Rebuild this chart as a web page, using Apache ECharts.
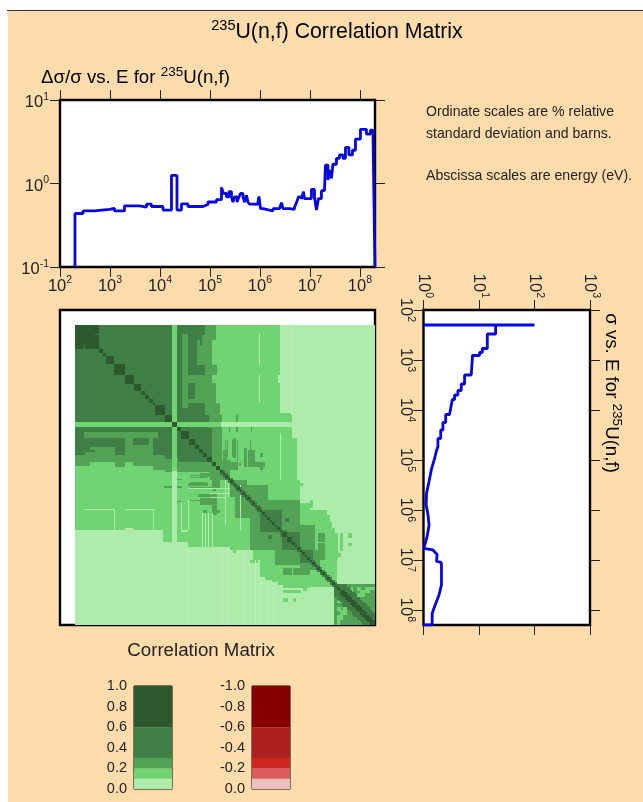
<!DOCTYPE html>
<html><head><meta charset="utf-8">
<style>html,body{margin:0;padding:0;background:#fff}#c{width:643px;height:802px}</style>
<script src="https://cdn.jsdelivr.net/npm/echarts@6/dist/echarts.min.js"></script>
</head><body><div id="c"></div>
<script>
// ---------- text ----------
const titleText = '{s|235}{b|U(n,f) Correlation Matrix}';
const uncTitle = '{b|Δσ/σ vs. E for }{s|235}{b|U(n,f)}';
const xsTitle = '{b|σ vs. E for }{s|235}{b|U(n,f)}';
const matrixTitle = 'Correlation Matrix';
const notes = ['Ordinate scales are % relative', 'standard deviation and barns.', 'Abscissa scales are energy (eV).'];

// ---------- uncertainty curve: log10 E (eV) and relative std. dev. (%) ----------
const uncLogE = [2.30,2.30,2.46,2.69,2.99,3.09,3.29,3.59,3.73,3.83,4.06,4.23,4.34,4.43,4.56,4.86,4.96,5.13,5.23,5.27,5.33,5.38,5.43,5.46,5.49,5.54,5.58,5.61,5.66,5.69,5.73,5.76,5.79,5.96,5.98,6.01,6.06,6.19,6.26,6.39,6.43,6.46,6.59,6.69,6.73,6.77,6.83,6.87,6.89,7.03,7.09,7.13,7.17,7.23,7.29,7.31,7.36,7.39,7.43,7.46,7.53,7.59,7.66,7.71,7.78,7.85,7.91,8.01,8.13,8.21,8.26,8.30,8.30];
const uncPct = [0.1,0.437,0.47,0.49,0.505,0.47,0.54,0.52,0.565,0.53,0.48,1.25,0.48,0.57,0.53,0.56,0.6,0.64,0.9,0.76,0.69,0.8,0.69,0.6,0.69,0.6,0.69,0.76,0.69,0.6,0.72,0.6,0.565,0.6,0.7,0.5,0.48,0.47,0.5,0.51,0.59,0.5,0.49,0.52,0.59,0.69,0.65,0.8,0.66,0.85,0.69,0.48,0.66,0.82,0.85,1.66,1.1,1.45,1.15,1.7,2.0,2.2,2.0,2.7,2.2,2.5,3.4,4.45,3.9,4.35,4.5,4.5,0.1];

// ---------- cross section curve: log10 E (eV) and log10 sigma (barns) ----------
const xsLogE = [2.3,2.3,2.3,2.48,2.48,2.77,2.77,2.85,2.85,2.91,2.91,2.97,3.3,3.3,3.48,3.48,3.61,3.61,3.70,3.7,3.79,3.79,3.9,3.9,4.09,4.09,4.25,4.25,4.4,4.4,4.57,4.57,4.73,4.73,4.83,4.97,5.0,5.2,5.43,5.67,5.9,6.07,6.3,6.53,6.77,6.8,6.89,7.03,7.05,7.15,7.5,7.7,7.93,8.07,8.3,8.3];
const xsLogS = [0,2.0,1.3,1.3,1.15,1.15,1.06,1.06,1.01,1.01,0.88,0.88,0.86,0.74,0.74,0.68,0.68,0.62,0.62,0.56,0.56,0.52,0.5,0.47,0.47,0.40,0.40,0.35,0.35,0.31,0.31,0.26,0.26,0.23,0.23,0.20,0.17,0.14,0.10,0.054,0.048,0.078,0.10,0.066,0.006,0.17,0.246,0.234,0.32,0.324,0.324,0.28,0.2,0.156,0.156,0];

// ---------- correlation bands ----------
const bandWidths = [0.1,0.1,0.1,0.3,0.4];
const greenBand = ['#aeecac','#70d473','#52a355','#3f7f46','#2c5a2e','#bdefb9'];
const redBand = ['#ecc0c0','#d85c5c','#cc2820','#ad2020','#870000'];
const decades = [2,3,4,5,6,7,8];

// ---------- matrix, as energy-bin ranges [colFrom, colTo, rowFrom, rowTo]; 50 bins per decade from 200 eV ----------
const allBins = [[0,300,0,300]];
const band1 = [[0,205,0,205],[0,217,88,113],[0,222,113,155],[150,225,155,178],[150,235,178,185],[170,252,185,197],[185,257,197,208],[208,263,208,235],[235,262,235,262],[265,268,208,226],[273,277,208,213],[273,277,218,221],[263,266,228,232],[225,228,158,161],[235,238,175,183],[252,255,190,200],[257,260,203,208]];
const band2 = [[102,141,0,15],[102,137,15,40],[102,142,40,50],[102,137,50,58],[102,141,58,78],[102,145,78,90],[102,147,90,97],[102,147,102,147],
  [148,152,125,138],[150,151,115,132],[152,153,115,132],[157,159,115,132],[162,163,115,145],[155,163,137,145],[169,172,123,142],[173,180,125,142],[175,176,115,125],[180,190,137,142],[185,188,128,132],[185,188,142,145],[164,166,138,141],[161,163,89,107],[154,155,102,107],[162,163,102,107],[176,177,102,107],[158,161,113,133],
  [135,155,135,155],[155,172,155,172],[172,185,160,175],[160,180,178,193],[185,225,175,215],[200,240,205,240],[225,245,228,242],[243,250,208,217],[243,250,218,233],[240,250,225,235],[259,300,259,300]];
const band3 = [[0,97,0,97],[102,130,0,97],[102,137,103,133],[185,207,185,207],[207,225,207,225],[225,235,228,238],[210,214,193,197],[262,272,259,270],[272,282,268,280],[282,292,278,290],[292,300,288,300]];
const band2Over = [[107,113,9,83],[122,130,20,40],[122,125,15,20],[127,130,10,20],[113,130,50,78]];
const band3Over = [[113,120,58,74],[130,134,90,97],[120,130,40,50]];
const stripe1 = [[97,102,0,97],[97,102,102,146]];
const stripe0 = [[97,102,146,217],[203,205,50,58]];
const corner1 = [[282,286,262,266],[285,295,265,268],[290,300,262,265],[282,290,268,272],[276,278,262,275]];
const diagBlocks = [[0,24,0,9],[0,20,9,20],[10,20,20,24]];
const diagEdges = [20,24,28,31,39,50,59,66,70,74,78,80,90,97,102,106,114,120,124,128,132,137,141,145,148,150,153,155,158,160,162,165,167,170,172,175,177,180,182,185,187,190,192,195,197,200,202,205,207,212,217,220,222,225,227,230,232,235,237,240,242,245,247,250,252,255,257,260,262,265,267,270,272,275,277,280,282,285,287,290,292,295,297,300];
const linesOnMid = [[184,185,8,40],[184,185,50,78],[205,206,108,155],[106,107,177,205],[113,114,175,205],[106,113,205,207],[113,155,163,164],[135,155,168,169],[135,150,172,173],[127,128,188,222],[130,131,188,222],[133,134,188,222],[137,138,188,222],[9,39,184,185],[39,40,184,205],[50,78,184,185],[78,79,184,205],[150,151,150,200],[165,166,160,205],[153,154,150,172],[252,253,252,254],[268,270,268,270]];
const linesOnLight = [[216,217,0,90],[113,114,222,300],[147,148,222,300],[151,152,222,300],[153,154,222,300],[169,170,228,300],[180,181,235,300],[185,186,252,300],[193,194,262,300],[198,199,262,300]];

// ---------- build matrix cell table ----------
const cells = [];
function addMirrored(list, level) {
  list.forEach(r => {
    cells.push([r[0], r[1], r[2], r[3], level]);
    cells.push([r[2], r[3], r[0], r[1], level]);
  });
}
addMirrored(allBins, 0);
addMirrored(band1, 1);
addMirrored(band2, 2);
addMirrored(band3, 3);
addMirrored(band2Over, 2);
addMirrored(band3Over, 3);
addMirrored(stripe1, 1);
addMirrored(stripe0, 0);
addMirrored(corner1, 1);
addMirrored(diagBlocks, 4);
linesOnMid.forEach(r => cells.push([r[0], r[1], r[2], r[3], 0]));
linesOnLight.forEach(r => cells.push([r[0], r[1], r[2], r[3], 5]));
diagEdges.forEach((e, i) => {
  if (i + 1 >= diagEdges.length) return;
  const wide = e >= 265;
  const a = wide ? diagEdges[i - 2] : diagEdges[Math.max(i - 1, 0)];
  const b = wide ? diagEdges[Math.min(i + 3, diagEdges.length - 1)] : diagEdges[i + 1];
  if (e >= 148) cells.push([a, b, a, b, 3]);
});
diagEdges.forEach((e, i) => {
  if (i + 1 >= diagEdges.length) return;
  const wide = e >= 265;
  const a = e, b = wide ? diagEdges[Math.min(i + 2, diagEdges.length - 1)] : diagEdges[i + 1];
  cells.push([a, b, a, b, 4]);
});

// ---------- helpers ----------
const font = '"Liberation Sans", Arial, sans-serif';
const ink = '#222';
const pow10 = v => Math.pow(10, v);
const decadeVals = decades.map(pow10);
const supRich = (b, s) => ({
  b: {fontFamily: font, fontSize: b, color: ink, lineHeight: b + 6},
  s: {fontFamily: font, fontSize: s, color: ink, lineHeight: b + 6, verticalAlign: 'top'}
});
const powerLabel = v => '{b|10}{s|' + Math.round(Math.log10(v)) + '}';
const tickStyle = {show: true, length: 10, lineStyle: {color: '#222', width: 1}};

function logAxis(opts) {
  return Object.assign({
    type: 'log', logBase: 10, axisLine: {show: false}, splitLine: {show: false},
    minorTick: {show: false}, minorSplitLine: {show: false}, axisTick: tickStyle, axisLabel: {show: false},
    animation: false
  }, opts);
}
const labelStyle = (rotate, margin, vals, padding) => ({
  show: true, rotate: rotate, margin: margin, formatter: powerLabel, rich: supRich(16.5, 10.5),
  customValues: vals, hideOverlap: false, padding: padding || 0
});
const withTicks = vals => Object.assign({}, tickStyle, {customValues: vals});

const frame = {show: true, backgroundColor: '#fff', borderColor: '#000', borderWidth: 2.4, containLabel: false};

const chart = echarts.init(document.getElementById('c'), null, {renderer: 'canvas'});
chart.setOption({
  animation: false,
  backgroundColor: '#ffffff',
  graphic: [
    {type: 'rect', z: -10, silent: true, shape: {x: 8, y: 11, width: 635, height: 791}, style: {fill: '#fedcac'}},
    {type: 'rect', z: -9, silent: true, shape: {x: 7, y: 10, width: 636, height: 1}, style: {fill: '#333'}},
    {type: 'text', style: {x: 337, y: 32, text: titleText, align: 'center', verticalAlign: 'middle', rich: supRich(21.3, 14.5)}},
    {type: 'text', style: {x: 41, y: 78, text: uncTitle, align: 'left', verticalAlign: 'middle', rich: supRich(18.7, 13.5)}},
    {type: 'text', x: 611, y: 393, rotation: -Math.PI / 2, style: {x: 0, y: 0, text: xsTitle, align: 'center', verticalAlign: 'middle', rich: supRich(18.7, 13.5)}},
    {type: 'text', style: {x: 426, y: 112, text: notes[0], font: '14.1px ' + font, fill: ink, verticalAlign: 'middle'}},
    {type: 'text', style: {x: 426, y: 134, text: notes[1], font: '14.1px ' + font, fill: ink, verticalAlign: 'middle'}},
    {type: 'text', style: {x: 426, y: 176, text: notes[2], font: '14.1px ' + font, fill: ink, verticalAlign: 'middle'}},
    {type: 'text', style: {x: 201, y: 651, text: matrixTitle, font: '18.7px ' + font, fill: ink, align: 'center', verticalAlign: 'middle'}}
  ],
  grid: [
    Object.assign({left: 60, top: 100, width: 315, height: 167}, frame),
    Object.assign({left: 60, top: 310, width: 315, height: 315}, frame),
    Object.assign({left: 423.5, top: 310, width: 166.5, height: 315}, frame),
    {show: true, left: 134, top: 686, width: 38, height: 103, borderColor: '#000', borderWidth: 1, backgroundColor: 'transparent'},
    {show: true, left: 252, top: 686, width: 38, height: 103, borderColor: '#000', borderWidth: 1, backgroundColor: 'transparent'}
  ],
  xAxis: [
    logAxis({gridIndex: 0, position: 'bottom', min: 100, max: 2e8, axisTick: withTicks(decadeVals), axisLabel: labelStyle(0, 8, decadeVals)}),
    logAxis({gridIndex: 0, position: 'top', min: 100, max: 2e8, axisTick: withTicks(decadeVals)}),
    {gridIndex: 1, type: 'value', min: -15, max: 300, show: false},
    logAxis({gridIndex: 2, position: 'top', min: 1, max: 1000, axisTick: withTicks([1,10,100,1000]), axisLabel: labelStyle(90, 12, [1,10,100,1000])}),
    logAxis({gridIndex: 2, position: 'bottom', min: 1, max: 1000, axisTick: withTicks([1,10,100,1000])}),
    {gridIndex: 3, type: 'category', data: ['+'], show: false},
    {gridIndex: 4, type: 'category', data: ['-'], show: false}
  ],
  yAxis: [
    logAxis({gridIndex: 0, position: 'left', min: 0.1, max: 10, axisTick: withTicks([0.1,1,10]), axisLabel: labelStyle(0, 11, [0.1,1,10], [5,0,0,0])}),
    logAxis({gridIndex: 0, position: 'right', min: 0.1, max: 10, axisTick: withTicks([0.1,1,10])}),
    {gridIndex: 1, type: 'value', min: -15, max: 300, inverse: true, show: false},
    logAxis({gridIndex: 2, position: 'left', min: 100, max: 2e8, inverse: true, axisTick: withTicks(decadeVals), axisLabel: labelStyle(-90, 7, decadeVals)}),
    logAxis({gridIndex: 2, position: 'right', min: 100, max: 2e8, inverse: true, axisTick: withTicks(decadeVals)}),
    {gridIndex: 3, type: 'value', min: 0, max: 1, interval: 0.2, axisLine: {show: false}, axisTick: {show: false}, splitLine: {show: false},
      axisLabel: {margin: 7, fontFamily: font, fontSize: 14.5, color: ink, padding: [4,0,0,0], formatter: v => v.toFixed(1)}},
    {gridIndex: 4, type: 'value', min: -1, max: 0, interval: 0.2, inverse: true, axisLine: {show: false}, axisTick: {show: false}, splitLine: {show: false},
      axisLabel: {margin: 7, fontFamily: font, fontSize: 14.5, color: ink, padding: [4,0,0,0], formatter: v => (Math.abs(v) < 1e-9 ? '0.0' : v.toFixed(1))}}
  ],
  series: [
    {type: 'line', xAxisIndex: 0, yAxisIndex: 0, step: 'end', showSymbol: false, clip: false, silent: true,
      lineStyle: {color: '#0606e2', width: 2.8}, data: uncLogE.map((e, i) => [pow10(e), uncPct[i]])},
    {type: 'custom', xAxisIndex: 2, yAxisIndex: 2, silent: true, clip: true, encode: {x: [0, 1], y: [2, 3]}, data: cells,
      renderItem: (params, api) => {
        const a = api.coord([api.value(0), api.value(2)]);
        const b = api.coord([api.value(1), api.value(3)]);
        const x = Math.round(a[0]), y = Math.round(a[1]);
        return {type: 'rect', shape: {x: x, y: y, width: Math.round(b[0]) - x, height: Math.round(b[1]) - y},
          style: {fill: greenBand[api.value(4)]}};
      }},
    {type: 'line', xAxisIndex: 3, yAxisIndex: 3, showSymbol: false, clip: false, silent: true,
      lineStyle: {color: '#0606e2', width: 2.8}, data: xsLogE.map((e, i) => [pow10(xsLogS[i]), pow10(e)])}
  ].concat(
    bandWidths.map((w, i) => ({type: 'bar', xAxisIndex: 5, yAxisIndex: 5, stack: 'pos', barWidth: '100%', silent: true,
      itemStyle: {color: greenBand[i]}, data: [w]})),
    bandWidths.map((w, i) => ({type: 'bar', xAxisIndex: 6, yAxisIndex: 6, stack: 'neg', barWidth: '100%', silent: true,
      itemStyle: {color: redBand[i]}, data: [-w]}))
  )
});
</script></body></html>
